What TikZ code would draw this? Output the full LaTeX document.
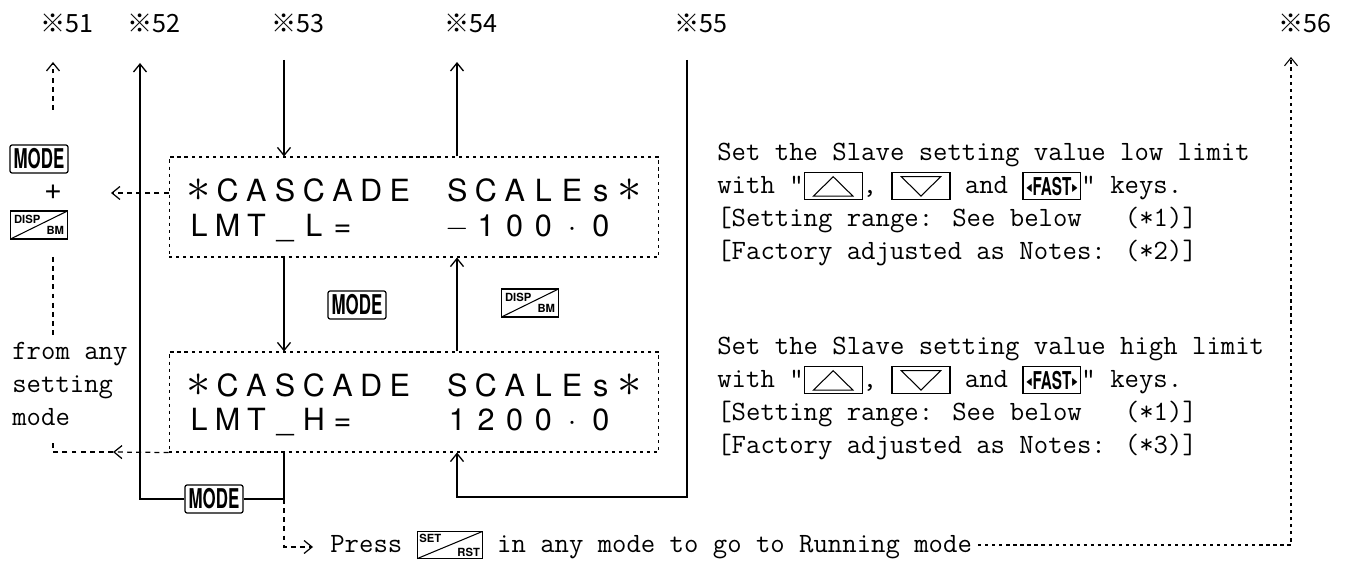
\documentclass[tikz,border=0pt]{standalone}
\usepackage{amssymb}
\usepackage{fontspec}
\usepackage{graphicx}
\usetikzlibrary{arrows.meta, calc}
\newfontfamily\lcdfont{TeX Gyre Heros}
\newfontfamily\cjk{Noto Sans CJK JP}

% keys that stand inside the running text
\newcommand{\keyup}{\tikz[baseline=0pt,x=1pt,y=1pt,line width=0.6pt]{\draw (0,-3.4) rectangle (33,12); \draw (5.3,-1.2) -- (27.7,-1.2) -- (16.5,9.8) -- cycle;}}
\newcommand{\keydown}{\tikz[baseline=0pt,x=1pt,y=1pt,line width=0.6pt]{\draw (0,-3.4) rectangle (33,12); \draw (5.3,9.8) -- (27.7,9.8) -- (16.5,-1.2) -- cycle;}}
\newcommand{\keyfast}{\tikz[baseline=0pt,x=1pt,y=1pt,line width=0.6pt]{\draw (0,-3.4) rectangle (33,12); \node[anchor=center, inner sep=0pt, font=\fontsize{14}{14}\selectfont\lcdfont\bfseries] (fastlbl) at (16.5,4.3) {\scalebox{0.62}[1]{\raisebox{2pt}{\scriptsize$\blacktriangleleft$}FAST\raisebox{2pt}{\scriptsize$\blacktriangleright$}}};}}
\newcommand{\keysetrst}{\tikz[baseline=0pt,x=1pt,y=1pt,line width=0.6pt]{\draw (0,-3.2) rectangle (37,12.2); \draw (0,-3.2) -- (37,12.2); \node[anchor=north west, inner sep=1pt, font=\fontsize{6.4}{7}\selectfont\lcdfont\bfseries] (setlbl) at (0,12.2) {SET}; \node[anchor=south east, inner sep=1pt, font=\fontsize{6.4}{7}\selectfont\lcdfont\bfseries] (rstlbl) at (37,-3.2) {RST};}}
\newcommand{\lcdstar}{\raisebox{0.5pt}{\scalebox{1.6}{$\ast$}}}

\begin{document}
\begin{tikzpicture}[x=0.02cm, y=-0.02cm, >={Straight Barb[length=1.6mm,width=2.6mm]},
  wire/.style={line width=0.75pt},
  dashwire/.style={line width=0.7pt, dash pattern=on 2.8pt off 2.4pt},
  dotwire/.style={line width=0.6pt, dash pattern=on 1.8pt off 2.2pt},
  lcdbox/.style={draw, line width=0.6pt, dash pattern=on 1.8pt off 2.2pt, minimum width=9.8cm, minimum height=2cm, inner sep=0pt},
  lcdchar/.style={anchor=base, inner sep=0pt, font=\fontsize{17.4}{20}\selectfont\lcdfont},
  keybox/.style={draw, line width=0.7pt, rounded corners=1.2pt, minimum width=1.16cm, minimum height=0.56cm, inner sep=0pt, fill=white, font=\fontsize{15.5}{16}\selectfont\lcdfont\bfseries},
  dispkey/.style={draw, line width=0.7pt, minimum width=1.14cm, minimum height=0.56cm, inner sep=1pt, fill=white, align=center, font=\fontsize{6.4}{8}\selectfont\lcdfont\bfseries,
    path picture={\draw[line width=0.6pt] (path picture bounding box.south west) -- (path picture bounding box.north east);}},
  txt/.style={inner sep=0pt, align=left, font=\fontsize{15.9}{18.8}\selectfont\ttfamily},
  lab/.style={anchor=base west, inner sep=0pt, font=\fontsize{14.3}{16}\selectfont\cjk}]
\useasboundingbox (0,0) rectangle (1349,563);

% labels on top
\node[lab] (lab51) at (40,33) {※51};
\node[lab] (lab52) at (127,33) {※52};
\node[lab] (lab53) at (271,33) {※53};
\node[lab] (lab54) at (444,33) {※54};
\node[lab] (lab55) at (674,33) {※55};
\node[lab] (lab56) at (1278,33) {※56};

% the two displays
\node[lcdbox] (box1) at (414,207) {};
\node[lcdbox] (box2) at (414,402) {};
\foreach \ch [count=\i from 0] in {\lcdstar,C,A,S,C,A,D,E,{},S,C,A,L,E,s,\lcdstar}
  \node[lcdchar] (ua\i) at (199+28.7*\i,202) {\ch};
\foreach \ch [count=\i from 0] in {L,M,T,\_,L,=,{},{},{},$-$,1,0,0,·,0,{}}
  \node[lcdchar] (ub\i) at (199+28.7*\i,237) {\ch};
\foreach \ch [count=\i from 0] in {\lcdstar,C,A,S,C,A,D,E,{},S,C,A,L,E,s,\lcdstar}
  \node[lcdchar] (la\i) at (199+28.7*\i,397) {\ch};
\foreach \ch [count=\i from 0] in {L,M,T,\_,H,=,{},{},{},1,2,0,0,·,0,{}}
  \node[lcdchar] (lb\i) at (199+28.7*\i,431) {\ch};

% keys
\node[keybox] (mmode) at (357,305) {\scalebox{0.62}[1]{MODE}};
\node[dispkey] (mdisp) at (530,303) {\makebox[1cm][l]{DISP}\\[-1.5pt]\makebox[1cm][r]{BM}};
\node[keybox] (lmode) at (39,159) {\scalebox{0.62}[1]{MODE}};
\node[lcdchar, anchor=center] (lplus) at (53,192) {+};
\node[dispkey] (ldisp) at (39,225) {\makebox[1cm][l]{DISP}\\[-1.5pt]\makebox[1cm][r]{BM}};
\node[keybox] (bmode) at (214,499) {\scalebox{0.62}[1]{MODE}};

% texts (base is the last line)
\node[txt, anchor=base west] (fromany) at (12,426) {from any\\setting\\mode};
\node[txt, anchor=base west] (note1) at (717,260) {Set the Slave setting value low limit\\with "\keyup, \keydown{} and \keyfast" keys.\\{}[Setting range: See below\ \ \ (*1)]\\{}[Factory adjusted as Notes: (*2)]};
\node[txt, anchor=base west] (note2) at (717,454) {Set the Slave setting value high limit\\with "\keyup, \keydown{} and \keyfast" keys.\\{}[Setting range: See below\ \ \ (*1)]\\{}[Factory adjusted as Notes: (*3)]};
\node[txt, anchor=base west] (press) at (330,553) {Press \keysetrst{} in any mode to go to Running mode};

% turning points
\coordinate (t51) at (53,62);
\coordinate (s51) at (53,110);
\coordinate (u51) at (53,257);
\coordinate (v51) at (53,337);
\coordinate (w51) at (53,442);
\coordinate (x51) at (53,452);
\coordinate (a51) at (113,452);
\coordinate (b51) at (111,193);
\coordinate (t52) at (140,63);
\coordinate (j52) at (284,499);
\coordinate (t53) at (284,60);
\coordinate (t54) at (457,62);
\coordinate (t55) at (687,60);
\coordinate (k55) at (457,497);
\coordinate (c57) at (284,547);
\coordinate (p57) at (313,547);
\coordinate (c56) at (1291,545);
\coordinate (t56) at (1291,57);
\coordinate (d56) at ($(press.east)+(6,0)$);

% flow between the displays
\draw[wire,->] (t53) -- (t53 |- box1.north);
\draw[wire,->] (t54 |- box1.north) -- (t54);
\draw[wire,->] (t53 |- box1.south) -- (t53 |- box2.north);
\draw[wire,->] (t54 |- box2.north) -- (t54 |- box1.south);
\draw[wire,->] (t55) |- (k55) -- (k55 |- box2.south);
\draw[wire] (t53 |- box2.south) -- (j52) -- (bmode);
\draw[wire,->] (bmode) -| (t52);

% dashed paths
\draw[dashwire,->] (s51) -- (t51);
\draw[dashwire] (u51) -- (v51);
\draw[dashwire,->] (box2.south west) -- (a51);
\draw[dashwire] (a51) -- (x51) -- (w51);
\draw[dashwire,->] (box1.west |- b51) -- (b51);
\draw[dashwire,->] (j52) -- (c57) -- (p57);
\draw[dotwire,->] (d56 |- c56) -- (c56) -- (t56);
\end{tikzpicture}
\end{document}
